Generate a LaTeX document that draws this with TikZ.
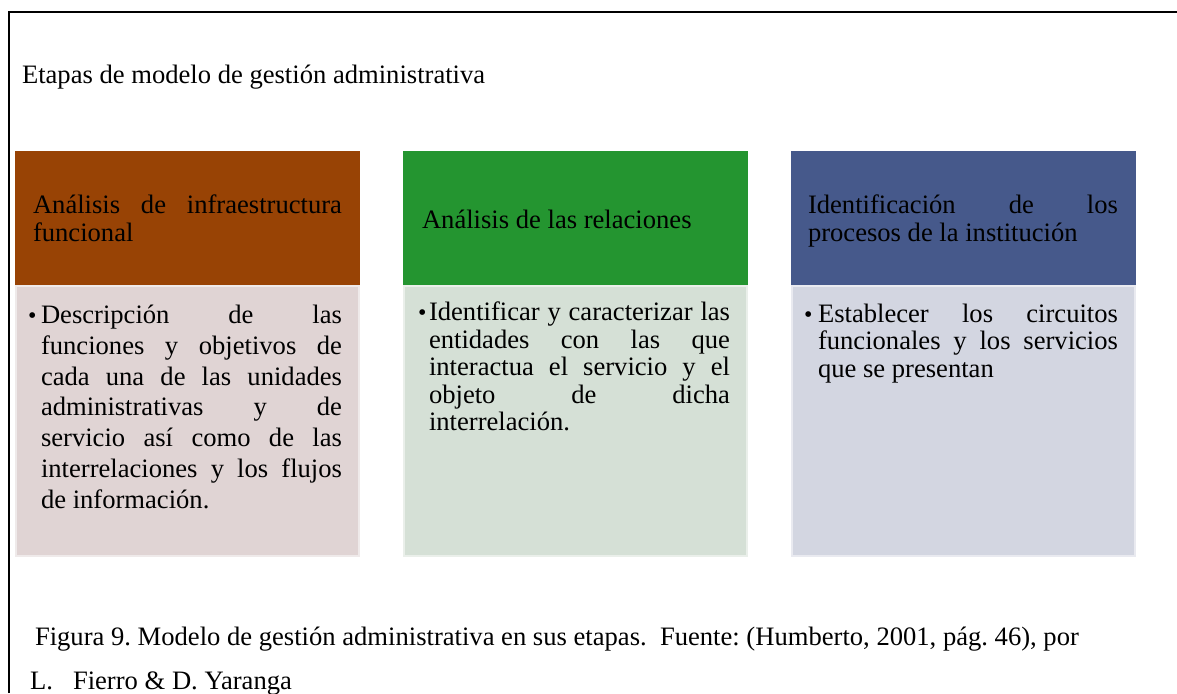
\documentclass[tikz,border=0pt]{standalone}
\usepackage{fontspec}
\setmainfont{Liberation Serif}
\frenchspacing
\definecolor{hdrA}{HTML}{984305}
\definecolor{hdrB}{HTML}{249530}
\definecolor{hdrC}{HTML}{46598B}
\definecolor{bodA}{HTML}{E0D4D4}
\definecolor{bodB}{HTML}{D5E0D6}
\definecolor{bodC}{HTML}{D3D6E1}
\begin{document}
\begin{tikzpicture}[x=1pt,y=-1pt,
  txt/.style={inner sep=0pt, outer sep=0pt, anchor=base west, font=\fontsize{26.6}{30}\selectfont},
  bul/.style={inner sep=0pt, outer sep=0pt, anchor=base west, font=\fontsize{24}{24}\selectfont},
  hdrbox/.style={inner sep=0pt, outer sep=0pt, anchor=north west, minimum width=345pt, minimum height=134pt},
  bodbox/.style={inner sep=0pt, outer sep=0pt, anchor=north west, minimum width=343pt, minimum height=270pt, line width=2pt}]
\useasboundingbox (0,0) rectangle (1177,693);
% frame
\draw[line width=1.3pt] (9,693) -- (9,12) -- (1177,12);
% title
\node[txt] (title) at (22,83) {Etapas de modelo de gestión administrativa};
% box 1
\node[hdrbox, fill=hdrA] (h1) at (15,151) {};
\node[bodbox, fill=bodA, draw=bodA!50!white] (b1) at (16,286) {};
\node[txt] (h1a) at (33,213) {\makebox[309pt][s]{Análisis de infraestructura}};
\node[txt] (h1b) at (33,241) {funcional};
\node[bul] (u1) at (28,323) {•};
\node[txt] (t1a) at (41,323) {\makebox[301pt][s]{Descripción de las}};
\node[txt] (t1b) at (41,354) {\makebox[301pt][s]{funciones y objetivos de}};
\node[txt] (t1c) at (41,385) {\makebox[301pt][s]{cada una de las unidades}};
\node[txt] (t1d) at (41,415) {\makebox[301pt][s]{administrativas y de}};
\node[txt] (t1e) at (41,446) {\makebox[301pt][s]{servicio así como de las}};
\node[txt] (t1f) at (41,477) {\makebox[301pt][s]{interrelaciones y los flujos}};
\node[txt] (t1g) at (41,508) {de información.};
% box 2
\node[hdrbox, fill=hdrB] (h2) at (403,151) {};
\node[bodbox, fill=bodB, draw=bodB!50!white] (b2) at (404,286) {};
\node[txt] (h2a) at (422,228) {Análisis de las relaciones};
\node[bul] (u2) at (418,320) {•};
\node[txt] (t2a) at (429,320) {\makebox[301pt][s]{Identificar y caracterizar las}};
\node[txt] (t2b) at (429,348) {\makebox[301pt][s]{entidades con las que}};
\node[txt] (t2c) at (429,375) {\makebox[301pt][s]{interactua el servicio y el}};
\node[txt] (t2d) at (429,403) {\makebox[301pt][s]{objeto de dicha}};
\node[txt] (t2e) at (429,430) {interrelación.};
% box 3
\node[hdrbox, fill=hdrC] (h3) at (791,151) {};
\node[bodbox, fill=bodC, draw=bodC!50!white] (b3) at (792,286) {};
\node[txt] (h3a) at (808,213) {\makebox[310pt][s]{Identificación de los}};
\node[txt] (h3b) at (808,241) {procesos de la institución};
\node[bul] (u3) at (804,322) {•};
\node[txt] (t3a) at (818,322) {\makebox[300pt][s]{Establecer los circuitos}};
\node[txt] (t3b) at (818,349) {\makebox[300pt][s]{funcionales y los servicios}};
\node[txt] (t3c) at (818,377) {que se presentan};
% caption
\node[txt] (cap1) at (35,645) {Figura 9. Modelo de gestión administrativa en sus etapas.\ \ Fuente: (Humberto, 2001, pág. 46), por};
\node[txt] (cap2a) at (30,689) {L.};
\node[txt] (cap2b) at (73,689) {Fierro \& D. Yaranga};
\end{tikzpicture}
\end{document}
